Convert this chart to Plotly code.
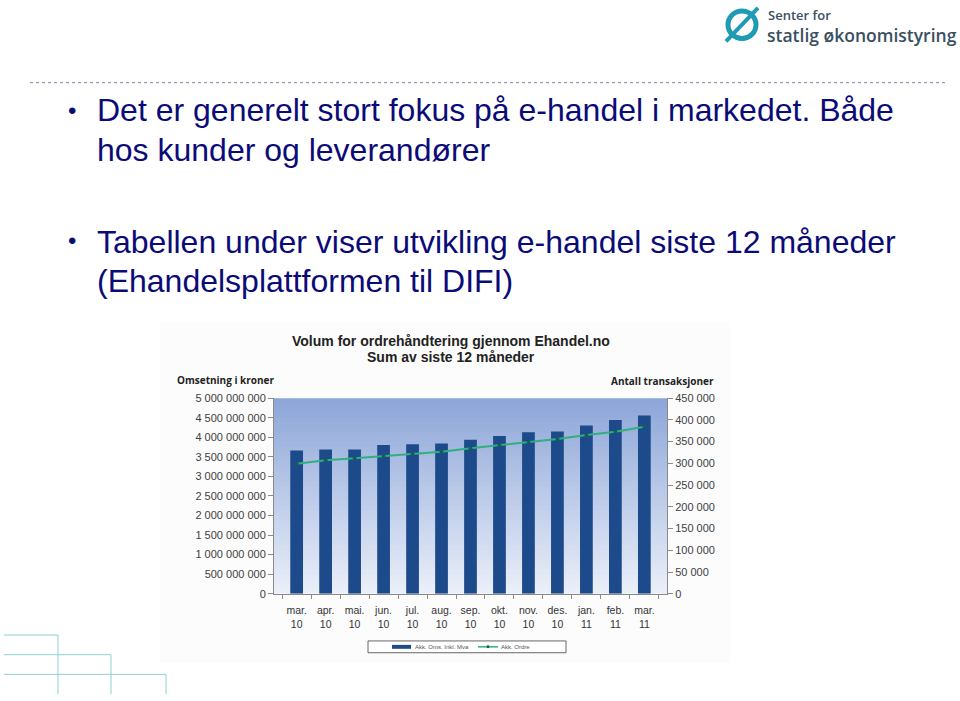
import plotly.graph_objects as go

W, H = 960, 701

# ---------------- data ----------------
months = ["mar.<br>10", "apr.<br>10", "mai.<br>10", "jun.<br>10", "jul.<br>10", "aug.<br>10",
          "sep.<br>10", "okt.<br>10", "nov.<br>10", "des.<br>10", "jan.<br>11", "feb.<br>11", "mar.<br>11"]
omsetning = [3660e6, 3690e6, 3690e6, 3800e6, 3820e6, 3840e6, 3940e6, 4030e6,
             4130e6, 4150e6, 4300e6, 4440e6, 4560e6]
ordre = [299000, 307000, 312000, 317000, 321000, 327000, 335000, 341500,
         349000, 356000, 365500, 373000, 384500]

left_ticks = [0, 500e6, 1000e6, 1500e6, 2000e6, 2500e6, 3000e6, 3500e6, 4000e6, 4500e6, 5000e6]
left_labels = ["0", "500 000 000", "1 000 000 000", "1 500 000 000", "2 000 000 000", "2 500 000 000",
               "3 000 000 000", "3 500 000 000", "4 000 000 000", "4 500 000 000", "5 000 000 000"]
right_ticks = [0, 50000, 100000, 150000, 200000, 250000, 300000, 350000, 400000, 450000]
right_labels = ["0", "50 000", "100 000", "150 000", "200 000", "250 000", "300 000",
                "350 000", "400 000", "450 000"]

series_names = ["Akk. Oms. Inkl. Mva", "Akk. Ordre"]

bullet1 = ["Det er generelt stort fokus på e-handel i markedet. Både", "hos kunder og leverandører"]
bullet2 = ["Tabellen under viser utvikling e-handel siste 12 måneder", "(Ehandelsplattformen til DIFI)"]

BAR_C = "#1d4a8a"
LINE_C = "#2fb07e"
MARK_C = "#1a5a5c"


def px(x):
    return x / W


def py(y):
    return 1 - y / H


fig = go.Figure()
fig.add_trace(go.Bar(x=months, y=omsetning, name=series_names[0],
                     marker=dict(color=BAR_C, line=dict(width=0)), yaxis="y"))
fig.add_trace(go.Scatter(x=months, y=ordre, name=series_names[1], mode="lines+markers",
                         line=dict(color=LINE_C, width=2),
                         marker=dict(color=MARK_C, size=4), yaxis="y2"))

shapes = []
# chart picture background
shapes.append(dict(type="rect", xref="paper", yref="paper", x0=px(160), x1=px(730), y0=py(668), y1=py(322),
                   fillcolor="#fcfcfc", line=dict(width=0), layer="below"))
# gradient in plot area
n = 40
top = (141, 166, 216)
bot = (234, 239, 249)
for i in range(n):
    t = i / (n - 1)
    c = tuple(int(round(top[k] + (bot[k] - top[k]) * t)) for k in range(3))
    shapes.append(dict(type="rect", xref="x domain", yref="y domain", x0=0, x1=1,
                       y0=max(0, 1 - (i + 1.6) / n), y1=1 - i / n,
                       fillcolor="rgb(%d,%d,%d)" % c, line=dict(width=0), layer="below"))
# dotted separator
shapes.append(dict(type="line", xref="paper", yref="paper", x0=px(30), x1=px(948), y0=py(78), y1=py(78),
                   line=dict(color="#7a86a6", width=1, dash="dot")))
# bottom-left decoration
for (yy, xx) in [(640, 58), (660, 111), (680, 166)]:
    shapes.append(dict(type="line", xref="paper", yref="paper", x0=px(4), x1=px(xx), y0=py(yy), y1=py(yy),
                       line=dict(color="#8fcfd6", width=1)))
    shapes.append(dict(type="line", xref="paper", yref="paper", x0=px(xx), x1=px(xx), y0=py(yy), y1=py(700),
                       line=dict(color="#8fcfd6", width=1)))
# logo Ø
shapes.append(dict(type="circle", xref="paper", yref="paper", x0=px(728), x1=px(756), y0=py(33), y1=py(5),
                   line=dict(color="#1f9bb3", width=5)))
shapes.append(dict(type="line", xref="paper", yref="paper", x0=px(726), x1=px(758), y0=py(36), y1=py(2),
                   line=dict(color="#1f9bb3", width=4)))
# manual legend box
shapes.append(dict(type="rect", xref="paper", yref="paper", x0=px(368), x1=px(566), y0=py(658), y1=py(646),
                   fillcolor="white", line=dict(color="#666666", width=1)))
shapes.append(dict(type="rect", xref="paper", yref="paper", x0=px(392), x1=px(411), y0=py(654), y1=py(650),
                   fillcolor=BAR_C, line=dict(width=0)))
shapes.append(dict(type="line", xref="paper", yref="paper", x0=px(478), x1=px(498), y0=py(652), y1=py(652),
                   line=dict(color=LINE_C, width=1.5)))
shapes.append(dict(type="circle", xref="paper", yref="paper", x0=px(486.5), x1=px(489.5), y0=py(653.5),
                   y1=py(650.5), fillcolor=MARK_C, line=dict(width=0)))

ann = []
TXT = "#0b0b78"
FONT = "Liberation Sans, Arial, sans-serif"
for (yc, txt) in [(106, bullet1[0]), (147, bullet1[1]), (240, bullet2[0]), (280, bullet2[1])]:
    ann.append(dict(x=px(95), y=py(yc), xref="paper", yref="paper", text=txt, showarrow=False,
                    xanchor="left", yanchor="middle", font=dict(family=FONT, size=32, color=TXT)))
for yc in [106, 239]:
    ann.append(dict(x=px(72), y=py(yc), xref="paper", yref="paper", text="•", showarrow=False,
                    xanchor="center", yanchor="middle", font=dict(family=FONT, size=24, color=TXT)))
# logo text
ann.append(dict(x=px(766), y=py(9), xref="paper", yref="paper", text="Senter for", showarrow=False,
                xanchor="left", yanchor="middle",
                font=dict(family="Open Sans, sans-serif", size=13, color="#3b4f5f", weight=600)))
ann.append(dict(x=px(765), y=py(29), xref="paper", yref="paper", text="statlig økonomistyring", showarrow=False,
                xanchor="left", yanchor="middle",
                font=dict(family="Open Sans, sans-serif", size=17.5, color="#3b4f5f", weight=600)))
# chart titles
ann.append(dict(x=px(451), y=py(341), xref="paper", yref="paper",
                text="Volum for ordrehåndtering gjennom Ehandel.no", showarrow=False,
                xanchor="center", yanchor="middle",
                font=dict(family=FONT, size=14, color="#222222", weight="bold")))
ann.append(dict(x=px(451), y=py(357), xref="paper", yref="paper",
                text="Sum av siste 12 måneder", showarrow=False,
                xanchor="center", yanchor="middle",
                font=dict(family=FONT, size=14, color="#222222", weight="bold")))
ann.append(dict(x=px(226), y=py(381), xref="paper", yref="paper", text="Omsetning i kroner", showarrow=False,
                xanchor="center", yanchor="middle",
                font=dict(family="Open Sans, sans-serif", size=10, color="#222222", weight="bold")))
ann.append(dict(x=px(662), y=py(382), xref="paper", yref="paper", text="Antall transaksjoner", showarrow=False,
                xanchor="center", yanchor="middle",
                font=dict(family="Open Sans, sans-serif", size=10, color="#222222", weight="bold")))
# legend texts
ann.append(dict(x=px(413), y=py(652), xref="paper", yref="paper", text=series_names[0], showarrow=False,
                xanchor="left", yanchor="middle", font=dict(family=FONT, size=6, color="#555555")))
ann.append(dict(x=px(499), y=py(652), xref="paper", yref="paper", text=series_names[1], showarrow=False,
                xanchor="left", yanchor="middle", font=dict(family=FONT, size=6, color="#555555")))

fig.update_layout(
    width=W, height=H, margin=dict(l=0, r=0, t=0, b=0),
    paper_bgcolor="white", plot_bgcolor="#e9eef8",
    showlegend=False,
    bargap=0.56,
    xaxis=dict(domain=[px(274), px(667)], type="category", showgrid=False, zeroline=False,
               showline=True, linecolor="#8a8a8a", ticks="outside", ticklen=4, tickcolor="#8a8a8a",
               tickson="boundaries", tickangle=0, ticklabelstandoff=7,
               tickfont=dict(family=FONT, size=10.5, color="#333333"), anchor="y"),
    yaxis=dict(domain=[py(598), py(399)], range=[0, 5e9], tickvals=left_ticks, ticktext=left_labels,
               showgrid=False, zeroline=False, showline=True, linecolor="#8a8a8a", ticks="outside",
               ticklen=5, tickcolor="#8a8a8a", tickfont=dict(family=FONT, size=11, color="#404040")),
    yaxis2=dict(range=[0, 450000], tickvals=right_ticks, ticktext=right_labels, overlaying="y",
                side="right", anchor="x", showgrid=False, zeroline=False, showline=True,
                linecolor="#8a8a8a", ticks="outside", ticklen=5, tickcolor="#8a8a8a",
                tickfont=dict(family=FONT, size=11, color="#404040")),
    shapes=shapes, annotations=ann,
)

fig.write_html("out.html")
